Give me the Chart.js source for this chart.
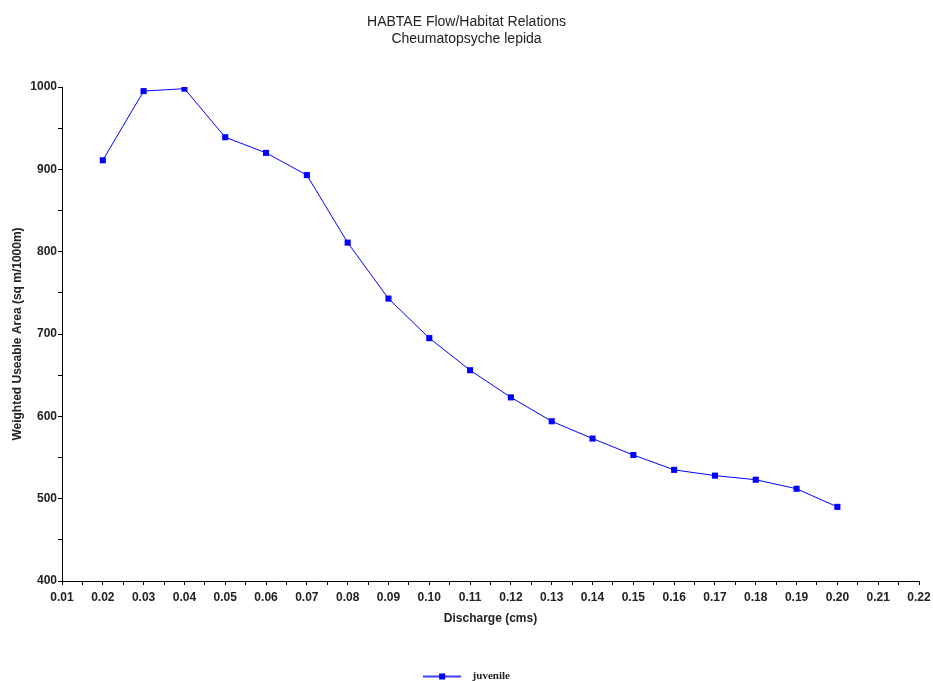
<!DOCTYPE html>
<html>
<head>
<meta charset="utf-8">
<title>HABTAE Flow/Habitat Relations</title>
<script src="https://cdn.jsdelivr.net/npm/chart.js@4.4.1/dist/chart.umd.min.js"></script>
<style>
  html, body { margin: 0; padding: 0; background: #fff; }
  #wrap { width: 933px; height: 681px; }
</style>
</head>
<body>
<div id="wrap"><canvas id="habitatChart" width="933" height="681"></canvas></div>
<script>
// Data
const discharge = [0.02, 0.03, 0.04, 0.05, 0.06, 0.07, 0.08, 0.09, 0.10, 0.11,
                   0.12, 0.13, 0.14, 0.15, 0.16, 0.17, 0.18, 0.19, 0.20];
const juvenileWUA = [911, 995, 998, 939, 920, 893, 811, 743, 695, 656,
                     623, 594, 573, 553, 535, 528, 523, 512, 490];
const xTickLabels = ['0.01', '0.02', '0.03', '0.04', '0.05', '0.06', '0.07', '0.08', '0.09', '0.10', '0.11',
                     '0.12', '0.13', '0.14', '0.15', '0.16', '0.17', '0.18', '0.19', '0.20', '0.21', '0.22'];
const yTickLabels = ['400', '500', '600', '700', '800', '900', '1000'];

const titleLines = ['HABTAE Flow/Habitat Relations', 'Cheumatopsyche lepida'];
const seriesName = 'juvenile';
const lineColor = '#0000ff';

// ticks with one unlabelled tick between each labelled one
function withMinorTicks(labels) {
    const ticks = [];
    labels.forEach((lbl, i) => {
        const v = parseFloat(lbl);
        ticks.push({ value: v, label: lbl });
        if (i < labels.length - 1) {
            const next = parseFloat(labels[i + 1]);
            ticks.push({ value: (v + next) / 2, label: '' });
        }
    });
    return ticks;
}

// legend symbol: short line with a square in the middle
function legendSymbol() {
    const c = document.createElement('canvas');
    c.width = 44;
    c.height = 8;
    const g = c.getContext('2d');
    g.strokeStyle = lineColor;
    g.lineWidth = 1.5;
    g.beginPath();
    g.moveTo(0, 4);
    g.lineTo(38, 4);
    g.stroke();
    g.fillStyle = lineColor;
    g.fillRect(16, 1, 6, 6);
    return c;
}

const tickFont = { family: 'Arial, "Liberation Sans", sans-serif', size: 12, weight: 'bold' };

const ctx = document.getElementById('habitatChart').getContext('2d');
new Chart(ctx, {
    type: 'line',
    data: {
        datasets: [{
            label: seriesName,
            data: discharge.map((x, i) => ({ x: x, y: juvenileWUA[i] })),
            borderColor: lineColor,
            backgroundColor: lineColor,
            borderWidth: 1,
            pointStyle: 'rect',
            pointRadius: 4.3,
            pointBorderWidth: 0,
            pointBackgroundColor: lineColor,
            tension: 0,
            fill: false
        }]
    },
    options: {
        responsive: false,
        animation: false,
        events: [],
        layout: { padding: { top: 0, left: 0, right: 0, bottom: -11 } },
        plugins: {
            title: {
                display: true,
                text: titleLines,
                color: '#222',
                font: { family: 'Arial, "Liberation Sans", sans-serif', size: 14, weight: 'normal', lineHeight: 1.25 },
                padding: { top: 13, bottom: 39 }
            },
            legend: {
                display: true,
                position: 'bottom',
                labels: {
                    usePointStyle: true,
                    pointStyle: legendSymbol(),
                    pointStyleWidth: 44,
                    color: '#222',
                    padding: 3,
                    font: { family: '"Liberation Serif", "Times New Roman", serif', size: 11, weight: 'bold' }
                }
            },
            tooltip: { enabled: false }
        },
        scales: {
            x: {
                type: 'linear',
                min: 0.01,
                max: 0.22,
                afterBuildTicks: (scale) => { scale.ticks = withMinorTicks(xTickLabels); },
                afterFit: (scale) => {
                    scale.height = 87;
                    scale.paddingLeft = 0;
                    scale.paddingRight = 0;
                },
                ticks: {
                    autoSkip: false,
                    maxRotation: 0,
                    padding: 5,
                    color: '#222',
                    font: tickFont,
                    callback: function (value, index, ticks) { return ticks[index].label; }
                },
                grid: {
                    drawOnChartArea: false,
                    drawTicks: true,
                    tickLength: 4,
                    color: '#000'
                },
                border: { display: true, color: '#000', width: 1 },
                title: {
                    display: true,
                    text: 'Discharge (cms)',
                    color: '#222',
                    font: tickFont,
                    padding: { top: 0, bottom: 42 }
                }
            },
            y: {
                type: 'linear',
                position: 'left',
                min: 400,
                max: 1000,
                afterBuildTicks: (scale) => { scale.ticks = withMinorTicks(yTickLabels); },
                afterFit: (scale) => { scale.width = 62; },
                ticks: {
                    autoSkip: false,
                    padding: 1,
                    color: '#222',
                    font: tickFont,
                    callback: function (value, index, ticks) { return ticks[index].label; }
                },
                grid: {
                    drawOnChartArea: false,
                    drawTicks: true,
                    tickLength: 4,
                    color: '#000'
                },
                border: { display: true, color: '#000', width: 1 },
                title: {
                    display: true,
                    text: 'Weighted Useable Area (sq m/1000m)',
                    color: '#222',
                    font: tickFont,
                    padding: { top: 10, bottom: 0 }
                }
            },
            // empty spacer on the right so the plot ends where the reference does
            spacer: {
                type: 'linear',
                position: 'right',
                display: true,
                afterFit: (scale) => { scale.width = 14; },
                ticks: { display: false },
                grid: { display: false },
                border: { display: false }
            }
        }
    }
});
</script>
</body>
</html>
